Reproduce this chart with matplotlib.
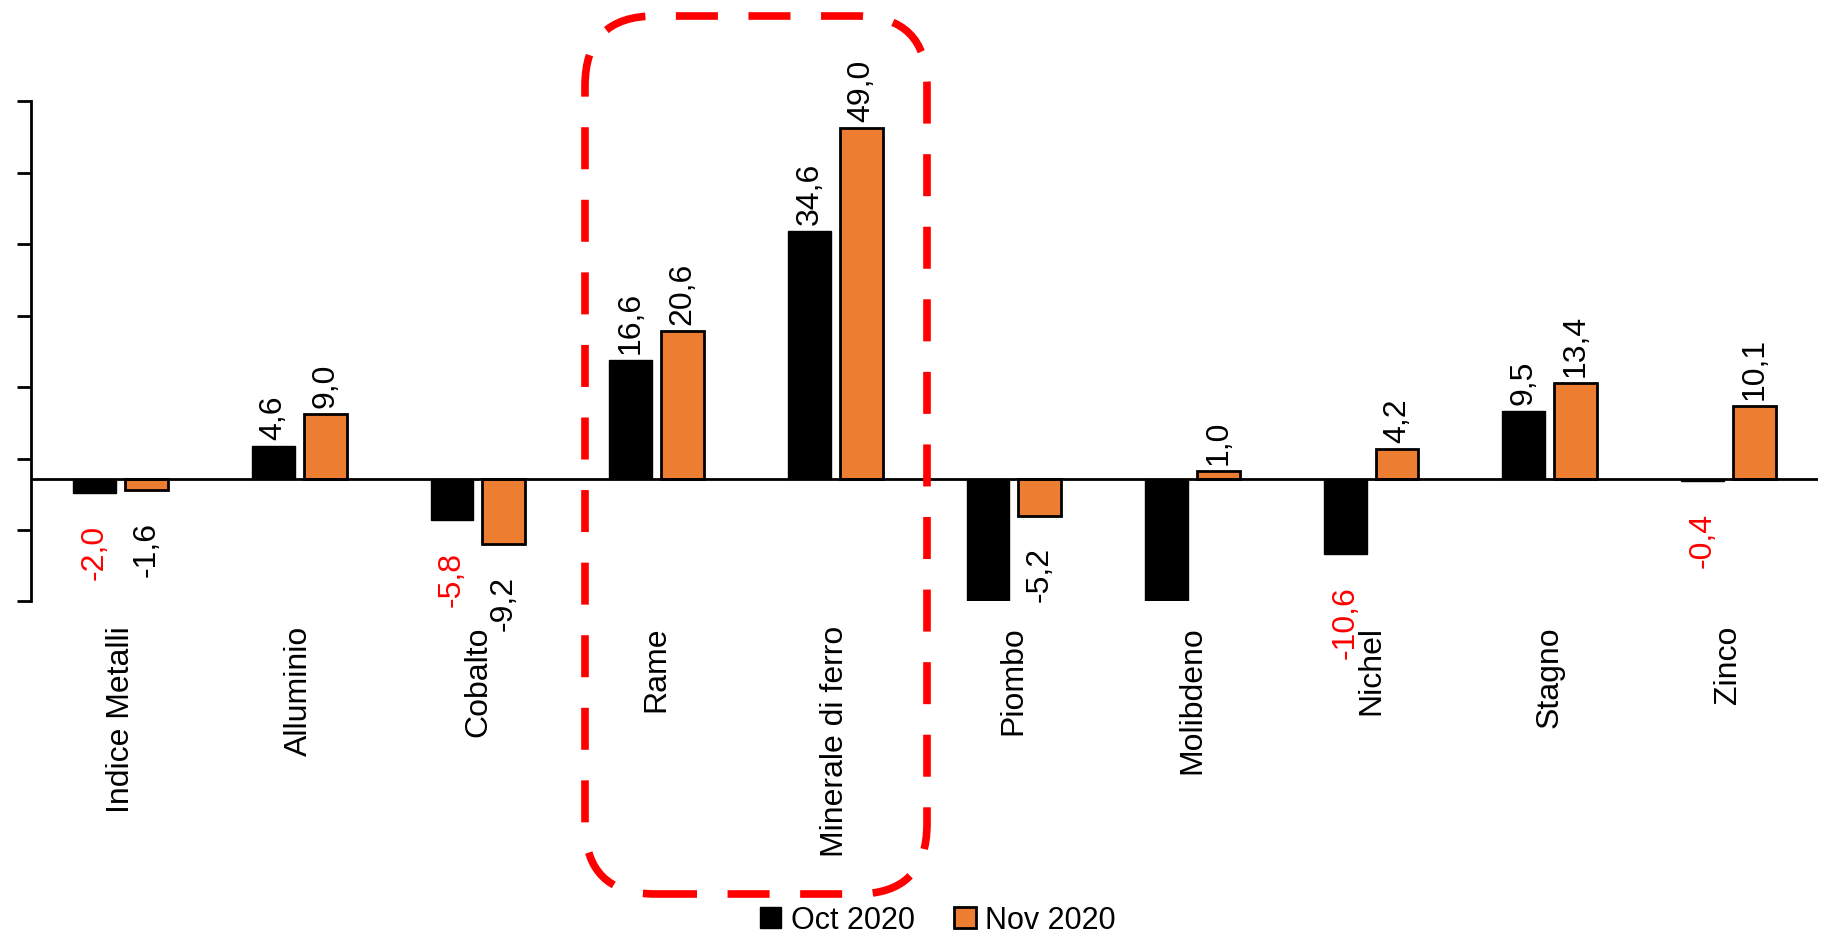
import matplotlib.pyplot as plt
import numpy as np
from matplotlib.patches import FancyBboxPatch

plt.rcParams['font.family'] = ['Liberation Sans', 'DejaVu Sans']

categories = ['Indice Metalli', 'Alluminio', 'Cobalto', 'Rame', 'Minerale di ferro',
              'Piombo', 'Molibdeno', 'Nichel', 'Stagno', 'Zinco']
oct_2020 = [-2.0, 4.6, -5.8, 16.6, 34.6, -19.0, -21.0, -10.6, 9.5, -0.4]
nov_2020 = [-1.6, 9.0, -9.2, 20.6, 49.0, -5.2, 1.0, 4.2, 13.4, 10.1]
series_names = ['Oct 2020', 'Nov 2020']

orange = '#ED7D31'
ymin, ymax = -17.2, 52.8

fig = plt.figure(figsize=(18.21, 9.37), dpi=100)
ax = fig.add_axes([0.0172, 0.357, 0.981, 0.534])

x = np.arange(len(categories))
w = 0.24
off = 0.145
b1 = ax.bar(x - off, oct_2020, w, color='black', edgecolor='black', linewidth=1, label=series_names[0])
b2 = ax.bar(x + off, nov_2020, w, color=orange, edgecolor='black', linewidth=2, label=series_names[1])

ax.set_xlim(-0.5, len(categories) - 0.5)
ax.set_ylim(ymin, ymax)
ax.axhline(0, color='black', lw=2, zorder=3)

ax.set_yticks(np.arange(ymin, ymax + 0.01, 10))
ax.set_yticklabels([])
ax.tick_params(axis='y', direction='out', length=10, width=2)
ax.set_xticks(x)
ax.set_xticklabels(categories, rotation=90, fontsize=23, va='top', ha='center')
ax.tick_params(axis='x', length=0, pad=17)

for s in ['top', 'right', 'bottom']:
    ax.spines[s].set_visible(False)
ax.spines['left'].set_linewidth(2)

def fmt(v):
    return f'{v:.1f}'.replace('.', ',')

for vals, xs, is_oct in [(oct_2020, x - off, True), (nov_2020, x + off, False)]:
    for xi, v in zip(xs, vals):
        if v < ymin:
            continue
        col = 'red' if (is_oct and v < 0) else 'black'
        if v >= 0:
            ax.annotate(fmt(v), (xi, v), xytext=(0, 5), textcoords='offset points',
                        rotation=90, ha='center', va='bottom', fontsize=23, color=col)
        else:
            ax.annotate(fmt(v), (xi, v), xytext=(0, -22), textcoords='offset points',
                        rotation=90, ha='center', va='top', fontsize=23, color=col)

fig.legend(handles=[b1, b2], labels=series_names, loc='center', bbox_to_anchor=(0.515, 0.017),
           ncol=2, frameon=False, fontsize=22, handlelength=0.7, handleheight=0.7,
           handletextpad=0.3, columnspacing=1.3, borderpad=0)

box = FancyBboxPatch((5.85, 0.42), 3.42, 8.78, boxstyle='round,pad=0,rounding_size=0.7',
                     transform=fig.dpi_scale_trans, fill=False, edgecolor='red',
                     linewidth=5.5, linestyle=(0, (5.5, 4)), clip_on=False)
fig.patches.append(box)

fig.savefig('out.png', dpi=100)
